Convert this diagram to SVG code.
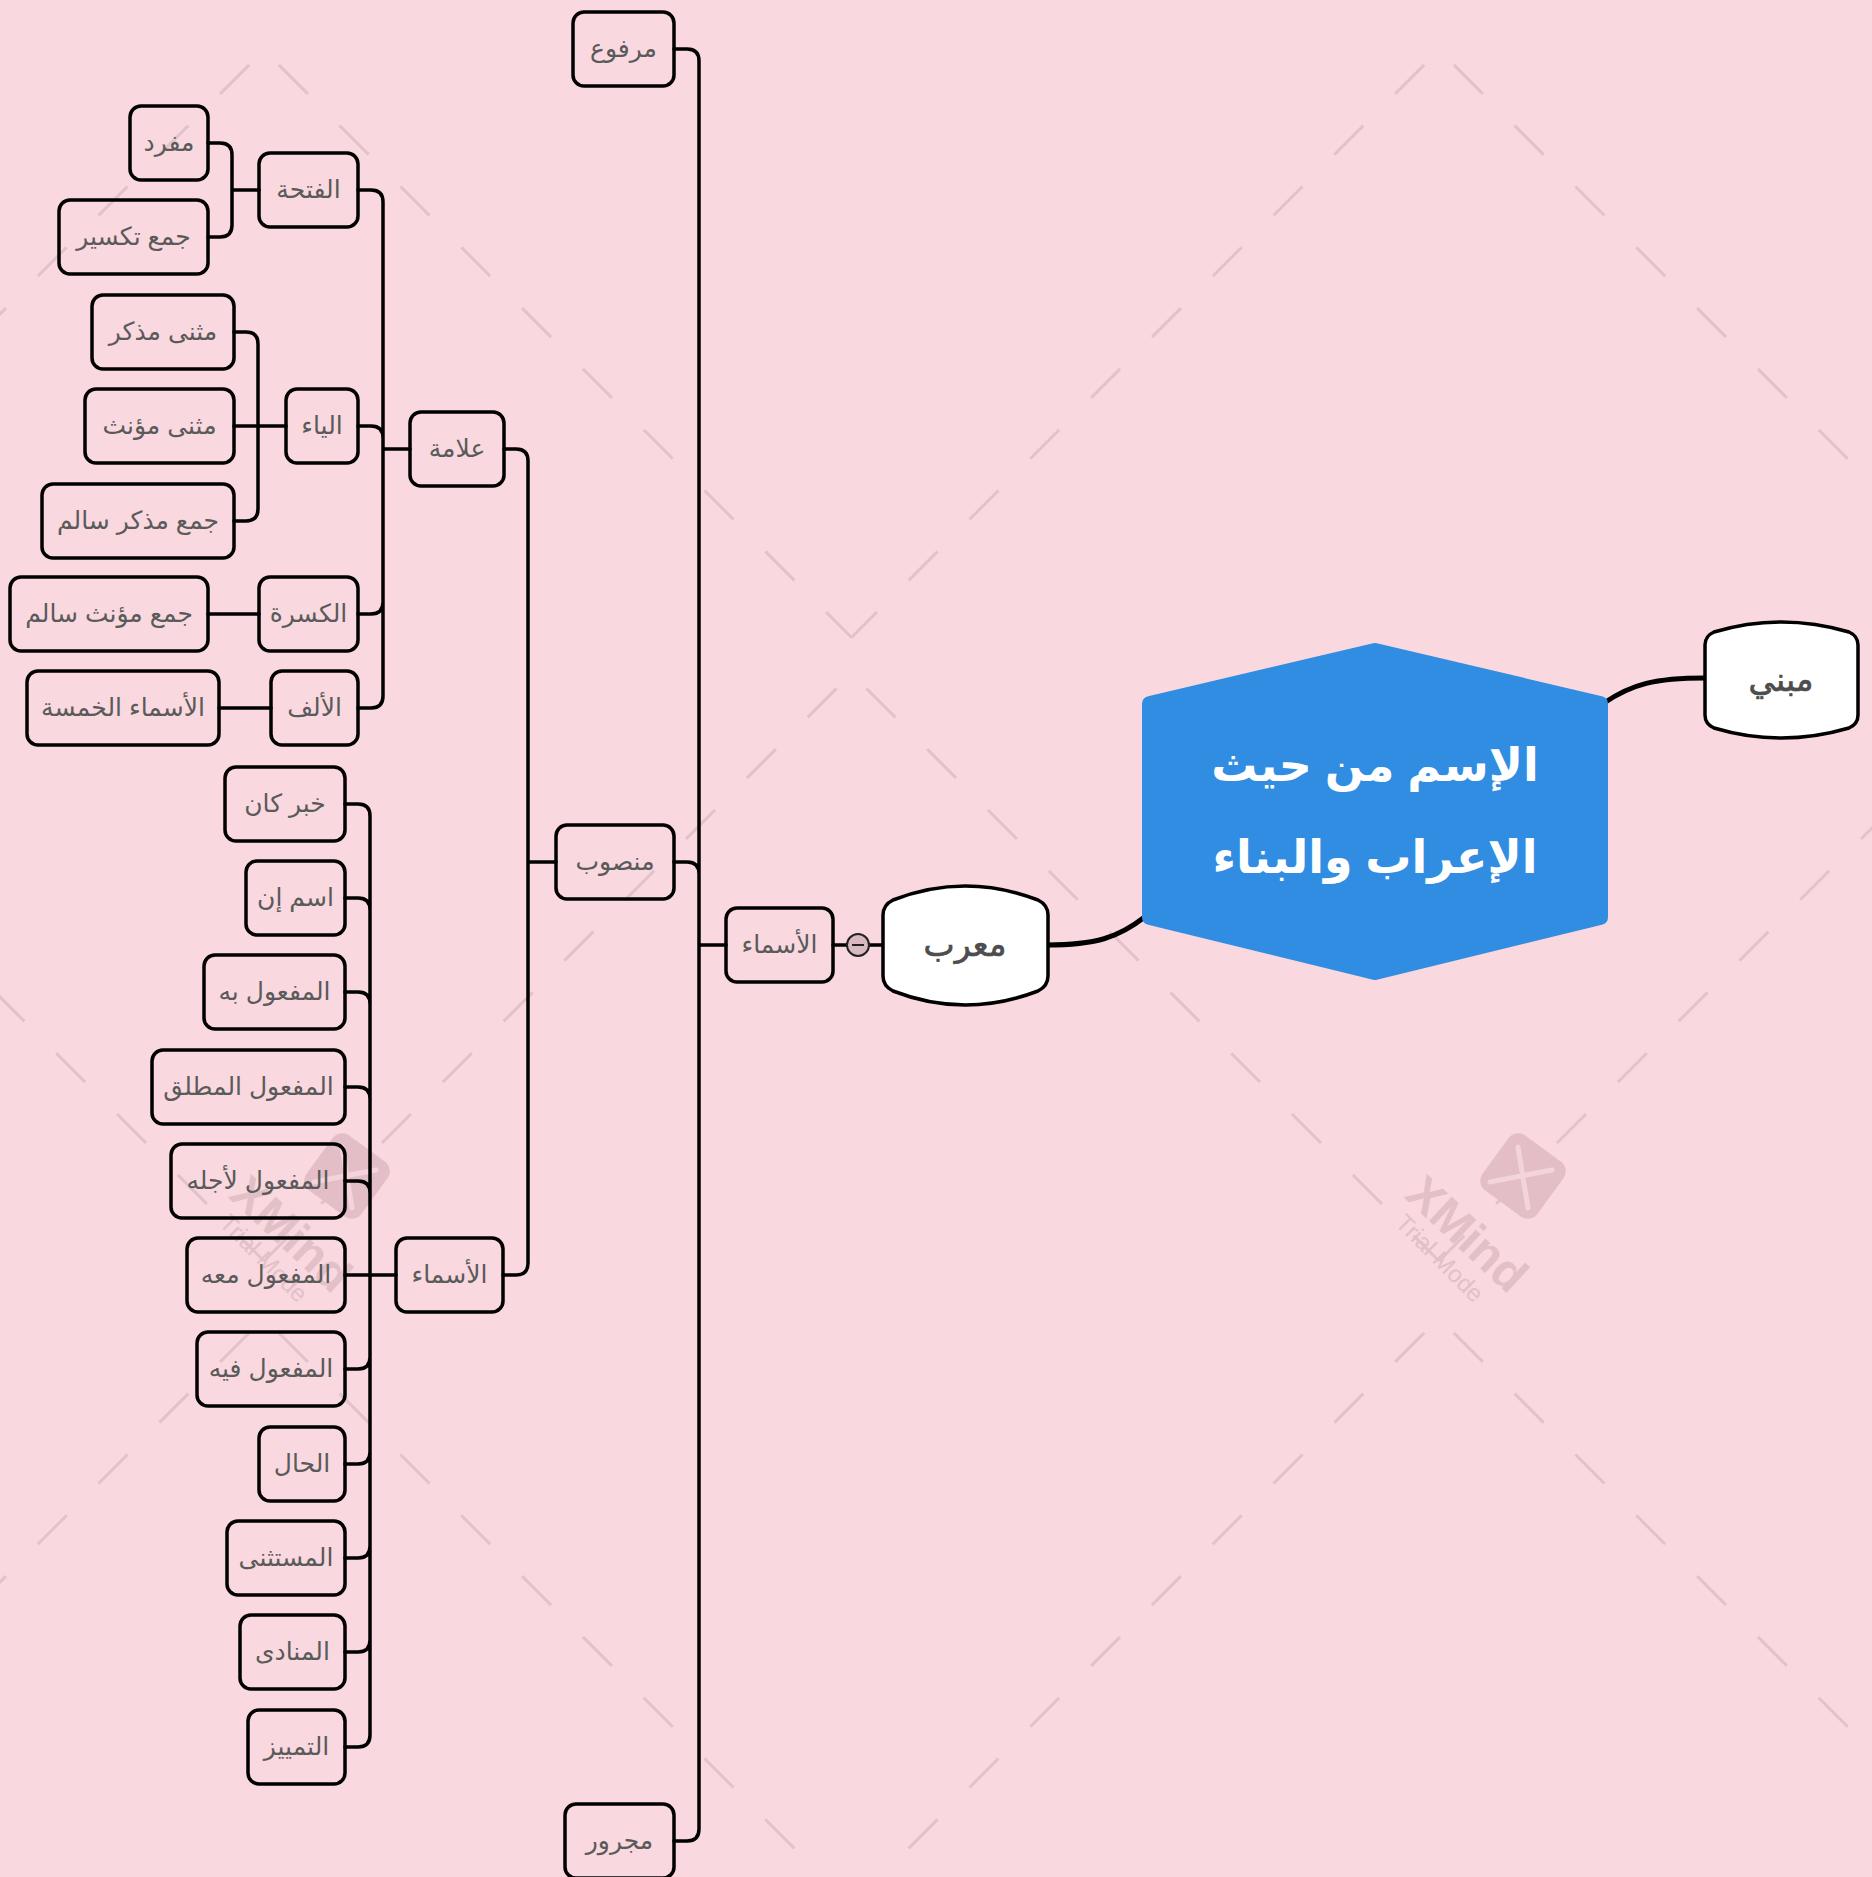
<svg xmlns="http://www.w3.org/2000/svg" width="1872" height="1877" viewBox="0 0 1872 1877">
<defs>
<style>
.t{font-family:"Liberation Sans","DejaVu Sans",sans-serif;font-size:25px;fill:#5a5a5a;text-anchor:middle;}
.tb{font-family:"Liberation Sans","DejaVu Sans",sans-serif;font-size:33px;fill:#4d4d4d;text-anchor:middle;stroke:#4d4d4d;stroke-width:0.7;}
.th{font-family:"Liberation Sans","DejaVu Sans",sans-serif;font-size:46px;fill:#ffffff;text-anchor:middle;font-weight:bold;}
.box{fill:none;stroke:#000;stroke-width:3.5;}
.con{fill:none;stroke:#000;stroke-width:3.5;stroke-linecap:round;}
.wm{fill:#e3c0c8;font-family:"Liberation Sans","DejaVu Sans",sans-serif;}
.d{fill:none;stroke:#e2c3ca;stroke-width:3;stroke-dasharray:41 45;stroke-dashoffset:65;}
</style>
<pattern id="bgp" patternUnits="userSpaceOnUse" x="264" y="50" width="1175" height="1268">
<path class="d" d="M0,0 L587.5,587.5"/>
<path class="d" d="M1175,0 L587.5,587.5"/>
<path class="d" d="M587.5,623.5 L0,1211"/>
<path class="d" d="M587.5,623.5 L1175,1211"/>
</pattern>
</defs>
<rect x="0" y="0" width="1872" height="1877" fill="#f9d8df"/>
<rect x="0" y="0" width="1872" height="1877" fill="url(#bgp)"/>

<g id="watermarks">
<g transform="translate(1523,1176) rotate(36)">
<rect x="-34" y="-34" width="68" height="68" rx="12" fill="#e3bec6"/>
</g>
<path d="M1518,1147 L1528,1208 M1490,1182 L1552,1170" stroke="#f4d4db" stroke-width="5" stroke-linecap="round" fill="none"/>
<text class="wm" x="0" y="0" font-size="48" font-weight="bold" text-anchor="middle" transform="translate(1456,1246) rotate(43)">XMind</text>
<text class="wm" x="0" y="0" font-size="24" text-anchor="middle" transform="translate(1434,1264) rotate(45)">Trial Mode</text>
<g transform="translate(347,1176) rotate(36)">
<rect x="-34" y="-34" width="68" height="68" rx="12" fill="#e3bec6"/>
</g>
<path d="M342,1147 L352,1208 M314,1182 L376,1170" stroke="#f4d4db" stroke-width="5" stroke-linecap="round" fill="none"/>
<text class="wm" x="0" y="0" font-size="48" font-weight="bold" text-anchor="middle" transform="translate(280,1246) rotate(43)">XMind</text>
<text class="wm" x="0" y="0" font-size="24" text-anchor="middle" transform="translate(258,1264) rotate(45)">Trial Mode</text>
</g>

<g id="connectors">
<path d="M1047,945 C1095,945 1118,938 1146,916" fill="none" stroke="#000" stroke-width="5"/>
<path d="M1604,703 C1632,684 1655,678 1705,678" fill="none" stroke="#000" stroke-width="5"/>
<path class="con" d="M833,945 H847 M869,945 H883"/>
<path class="con" d="M726,945 H699 M674,49 H687 Q699,49 699,61 V1829 M674,862 H687 Q699,862 699,874 M674,1841 H687 Q699,1841 699,1829"/>
<path class="con" d="M556,862 H528 M504,449 H516 Q528,449 528,461 V1263 M503,1275 H516 Q528,1275 528,1263"/>
<path class="con" d="M410,449 H383 M358,190 H371 Q383,190 383,202 V696 M358,426 H371 Q383,426 383,438 M358,614 H371 Q383,614 383,602 M358,708 H371 Q383,708 383,696"/>
<path class="con" d="M259,190 H232 M208,143 H220 Q232,143 232,155 V225 M208,237 H220 Q232,237 232,225"/>
<path class="con" d="M286,426 H234 M234,332 H246 Q258,332 258,344 V509 M234,521 H246 Q258,521 258,509"/>
<path class="con" d="M259,614 H208 M271,708 H219"/>
<path class="con" d="M396,1275 H345 M345,804 H358 Q370,804 370,816 V1735 M345,898 H358 Q370,898 370,910 M345,992 H358 Q370,992 370,1004 M345,1087 H358 Q370,1087 370,1099 M345,1181 H358 Q370,1181 370,1193 M345,1369 H358 Q370,1369 370,1357 M345,1464 H358 Q370,1464 370,1452 M345,1558 H358 Q370,1558 370,1546 M345,1652 H358 Q370,1652 370,1640 M345,1747 H358 Q370,1747 370,1735"/>
</g>

<g id="root">
<polygon points="1375,651 1600,704 1600,917 1375,972 1150,917 1150,704" fill="#318de2" stroke="#318de2" stroke-width="16" stroke-linejoin="round"/>
<text class="th" x="1375" y="781">الإسم من حيث</text>
<text class="th" x="1375" y="873">الإعراب والبناء</text>
</g>

<g id="node-mueerab">
<path d="M883,976 L883,915 Q883,905 893,900 Q965,872 1038,900 Q1048,905 1048,915 L1048,976 Q1048,986 1038,991 Q965,1019 893,991 Q883,986 883,976 Z" fill="#fff" stroke="#000" stroke-width="3.5"/>
<text class="tb" x="965" y="956">معرب</text>
</g>
<g id="node-mabni">
<path d="M1705,715 L1705,645 Q1705,636 1714,632 Q1781,612 1849,632 Q1858,636 1858,645 L1858,715 Q1858,724 1849,728 Q1781,748 1714,728 Q1705,724 1705,715 Z" fill="#fff" stroke="#000" stroke-width="3.5"/>
<text class="tb" x="1781" y="691">مبني</text>
</g>

<g id="collapse">
<circle cx="858" cy="945" r="11" fill="#d9b9c1" stroke="#222" stroke-width="2"/>
<line x1="852" y1="945" x2="864" y2="945" stroke="#222" stroke-width="2"/>
</g>

<g id="node-asmaa2"><rect class="box" x="726" y="908" width="107" height="74" rx="11"/><text class="t" x="779.5" y="953">الأسماء</text></g>

<g id="node-marfoo"><rect class="box" x="573" y="12" width="101" height="74" rx="11"/><text class="t" x="623.5" y="57">مرفوع</text></g>
<g id="node-mansoob"><rect class="box" x="556" y="825" width="118" height="74" rx="11"/><text class="t" x="615" y="870">منصوب</text></g>
<g id="node-majroor"><rect class="box" x="565" y="1804" width="109" height="74" rx="11"/><text class="t" x="619.5" y="1849">مجرور</text></g>

<g id="node-alama"><rect class="box" x="410" y="412" width="94" height="74" rx="11"/><text class="t" x="457" y="457">علامة</text></g>
<g id="node-asmaa3"><rect class="box" x="396" y="1238" width="107" height="74" rx="11"/><text class="t" x="449.5" y="1283">الأسماء</text></g>

<g id="node-fatha"><rect class="box" x="259" y="153" width="99" height="74" rx="11"/><text class="t" x="308.5" y="198">الفتحة</text></g>
<g id="node-yaa"><rect class="box" x="286" y="389" width="72" height="74" rx="11"/><text class="t" x="322" y="434">الياء</text></g>
<g id="node-kasra"><rect class="box" x="259" y="577" width="99" height="74" rx="11"/><text class="t" x="308.5" y="622">الكسرة</text></g>
<g id="node-alif"><rect class="box" x="271" y="671" width="87" height="74" rx="11"/><text class="t" x="314.5" y="716">الألف</text></g>

<g id="node-mufrad"><rect class="box" x="130" y="106" width="78" height="74" rx="11"/><text class="t" x="169" y="151">مفرد</text></g>
<g id="node-taksir"><rect class="box" x="59" y="200" width="149" height="74" rx="11"/><text class="t" x="133.5" y="245">جمع تكسير</text></g>
<g id="node-muthanna-m"><rect class="box" x="92" y="295" width="142" height="74" rx="11"/><text class="t" x="163" y="340">مثنى مذكر</text></g>
<g id="node-muthanna-f"><rect class="box" x="85" y="389" width="149" height="74" rx="11"/><text class="t" x="159.5" y="434">مثنى مؤنث</text></g>
<g id="node-jms-m"><rect class="box" x="42" y="484" width="192" height="74" rx="11"/><text class="t" x="138" y="529">جمع مذكر سالم</text></g>
<g id="node-jms-f"><rect class="box" x="10" y="577" width="198" height="74" rx="11"/><text class="t" x="109" y="622">جمع مؤنث سالم</text></g>
<g id="node-khamsa"><rect class="box" x="27" y="671" width="192" height="74" rx="11"/><text class="t" x="123" y="716">الأسماء الخمسة</text></g>

<g id="node-khabar"><rect class="box" x="225" y="767" width="120" height="74" rx="11"/><text class="t" x="285" y="812">خبر كان</text></g>
<g id="node-ism-inna"><rect class="box" x="246" y="861" width="99" height="74" rx="11"/><text class="t" x="295.5" y="906">اسم إن</text></g>
<g id="node-bihi"><rect class="box" x="204" y="955" width="141" height="74" rx="11"/><text class="t" x="274.5" y="1000">المفعول به</text></g>
<g id="node-mutlaq"><rect class="box" x="152" y="1050" width="193" height="74" rx="11"/><text class="t" x="248.5" y="1095">المفعول المطلق</text></g>
<g id="node-liajlih"><rect class="box" x="171" y="1144" width="174" height="74" rx="11"/><text class="t" x="258" y="1189">المفعول لأجله</text></g>
<g id="node-maahu"><rect class="box" x="187" y="1238" width="158" height="74" rx="11"/><text class="t" x="266" y="1283">المفعول معه</text></g>
<g id="node-fihi"><rect class="box" x="197" y="1332" width="148" height="74" rx="11"/><text class="t" x="271" y="1377">المفعول فيه</text></g>
<g id="node-hal"><rect class="box" x="259" y="1427" width="86" height="74" rx="11"/><text class="t" x="302" y="1472">الحال</text></g>
<g id="node-mustathna"><rect class="box" x="227" y="1521" width="118" height="74" rx="11"/><text class="t" x="286" y="1566">المستثنى</text></g>
<g id="node-munada"><rect class="box" x="240" y="1615" width="105" height="74" rx="11"/><text class="t" x="292.5" y="1660">المنادى</text></g>
<g id="node-tamyiz"><rect class="box" x="248" y="1710" width="97" height="74" rx="11"/><text class="t" x="296.5" y="1755">التمييز</text></g>
</svg>
